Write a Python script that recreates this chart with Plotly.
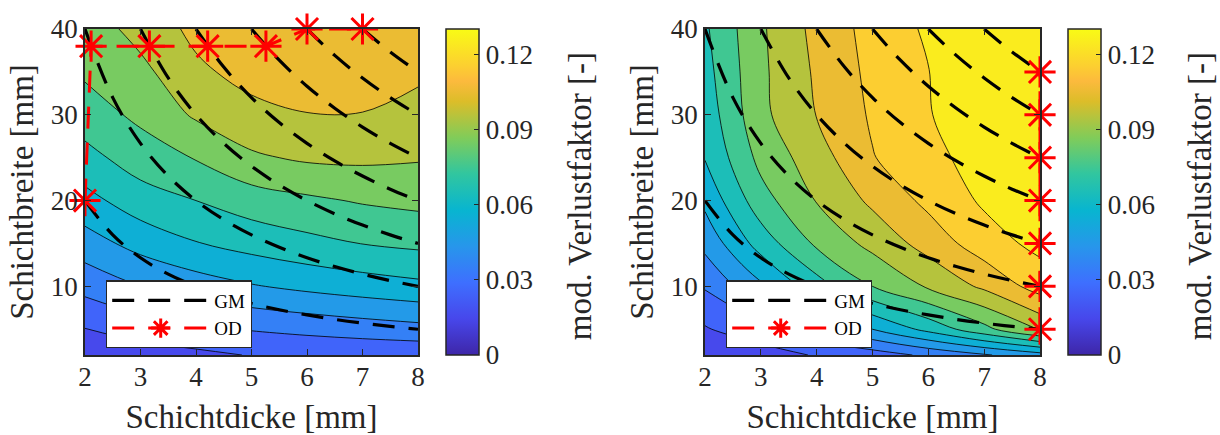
import plotly.graph_objects as go

# ---------------------------------------------------------------------------
# Data
# ---------------------------------------------------------------------------
# Grid of the parameter study: layer thickness (x) and layer width (y) in mm
thickness_mm = [2, 3, 4, 5, 6, 7, 8]
width_mm = [2, 5, 10, 15, 20, 25, 30, 35, 40]

# modified loss factor [-], rows follow width_mm, columns follow thickness_mm
loss_left = [
    [0.0114, 0.0150, 0.0176, 0.0205, 0.0210, 0.0215, 0.0220],
    [0.0197, 0.0246, 0.0279, 0.0306, 0.0328, 0.0349, 0.0368],
    [0.0333, 0.0399, 0.0450, 0.0492, 0.0524, 0.0551, 0.0575],
    [0.0455, 0.0536, 0.0595, 0.0637, 0.0672, 0.0702, 0.0722],
    [0.0567, 0.0654, 0.0700, 0.0751, 0.0782, 0.0809, 0.0826],
    [0.0667, 0.0750, 0.0806, 0.0885, 0.0915, 0.0920, 0.0909],
    [0.0752, 0.0822, 0.0914, 0.0970, 0.0998, 0.0998, 0.0967],
    [0.0815, 0.0873, 0.0980, 0.1035, 0.1035, 0.1030, 0.1018],
    [0.0845, 0.0935, 0.1025, 0.1055, 0.1065, 0.1065, 0.1060],
]

loss_right = [
    [0.0115, 0.0146, 0.0210, 0.0250, 0.0320, 0.0390, 0.0460],
    [0.0190, 0.0271, 0.0380, 0.0500, 0.0630, 0.0770, 0.0920],
    [0.0310, 0.0480, 0.0655, 0.0800, 0.0913, 0.1020, 0.1142],
    [0.0430, 0.0643, 0.0818, 0.0930, 0.1040, 0.1154, 0.1228],
    [0.0524, 0.0760, 0.0905, 0.1020, 0.1125, 0.1215, 0.1262],
    [0.0605, 0.0830, 0.0955, 0.1095, 0.1170, 0.1243, 0.1278],
    [0.0640, 0.0875, 0.1003, 0.1113, 0.1195, 0.1258, 0.1286],
    [0.0665, 0.0880, 0.1015, 0.1125, 0.1198, 0.1265, 0.1290],
    [0.0685, 0.0885, 0.1030, 0.1135, 0.1215, 0.1270, 0.1293],
]

# contour levels and colour range
level_start, level_end, level_step = 0.01, 0.12, 0.01
color_min, color_max = 0.0, 0.13
cbar_ticks = [0.0, 0.03, 0.06, 0.09, 0.12]
cbar_ticktext = ["0", "0.03", "0.06", "0.09", "0.12"]

# curves of equal cross-section (GM), sampled along the thickness axis
gm_x = [2.0, 2.5, 3.0, 3.5, 4.0, 4.5, 5.0, 5.5, 6.0, 6.5, 7.0, 7.5, 8.0]
gm_curves_y = [
    [20.0, 16.0, 13.33, 11.43, 10.0, 8.89, 8.0, 7.27, 6.67, 6.15, 5.71, 5.33, 5.0],
    [40.0, 32.0, 26.67, 22.86, 20.0, 17.78, 16.0, 14.55, 13.33, 12.31, 11.43, 10.67, 10.0],
    [None, None, 40.0, 34.29, 30.0, 26.67, 24.0, 21.82, 20.0, 18.46, 17.14, 16.0, 15.0],
    [None, None, None, None, 40.0, 35.56, 32.0, 29.09, 26.67, 24.62, 22.86, 21.33, 20.0],
    [None, None, None, None, None, None, 40.0, 36.36, 33.33, 30.77, 28.57, 26.67, 25.0],
    [None, None, None, None, None, None, None, None, 40.0, 36.92, 34.29, 32.0, 30.0],
    [None, None, None, None, None, None, None, None, None, None, 40.0, 37.33, 35.0],
]

# optimal designs (OD) on each GM curve
od_left_x = [2.0, 2.11, 3.16, 4.21, 5.26, 6.0, 7.0]
od_left_y = [20, 38, 38, 38, 38, 40, 40]
od_right_x = [8, 8, 8, 8, 8, 8, 8]
od_right_y = [5, 10, 15, 20, 25, 30, 35]

# ---------------------------------------------------------------------------
# Styling
# ---------------------------------------------------------------------------
FONT = "Liberation Serif"
INK = "#262626"
W, H = 1220, 435
M_L, M_R, M_T, M_B = 85, 180, 29, 80.4   # page margins around the two panels
PW, PH = W - M_L - M_R, H - M_T - M_B

parula_stops = [
    (0.000, (62, 38, 168)),
    (0.111, (71, 71, 235)),
    (0.222, (62, 111, 255)),
    (0.333, (39, 150, 235)),
    (0.444, (8, 181, 208)),
    (0.556, (49, 198, 159)),
    (0.667, (129, 204, 89)),
    (0.778, (220, 189, 41)),
    (0.840, (252, 186, 61)),
    (0.889, (252, 208, 48)),
    (1.000, (249, 251, 21)),
]


def parula_at(t):
    t = min(max(t, 0.0), 1.0)
    for (t0, c0), (t1, c1) in zip(parula_stops[:-1], parula_stops[1:]):
        if t <= t1:
            f = (t - t0) / (t1 - t0) if t1 > t0 else 0.0
            r, g, b = (round(a + f * (b_ - a)) for a, b_ in zip(c0, c1))
            return f"rgb({r},{g},{b})"
    r, g, b = parula_stops[-1][1]
    return f"rgb({r},{g},{b})"


parula_scale = [[t, f"rgb{c}"] for t, c in parula_stops]

# each filled band takes the colour at the middle of its level interval
n_levels = round((level_end - level_start) / level_step) + 1
band_scale = []
for k in range(0, n_levels + 1):
    mid = level_start + (k - 0.5) * level_step
    band_scale.append([k / n_levels, parula_at((mid - color_min) / (color_max - color_min))])


def px_x(p):
    """page pixel -> paper fraction (paper = area inside the margins)"""
    return (p - M_L) / PW


def px_y(p):
    return 1 - (p - M_T) / PH


fig = go.Figure()

panels = [
    dict(z=loss_left, od_x=od_left_x, od_y=od_left_y, xa="x", ya="y", legend="legend",
         cbar_x=446),
    dict(z=loss_right, od_x=od_right_x, od_y=od_right_y, xa="x2", ya="y2", legend="legend2",
         cbar_x=1068),
]

# all GM curves joined into one polyline per panel
gm_xs, gm_ys = [], []
for cy in gm_curves_y:
    gm_xs += gm_x + [None]
    gm_ys += cy + [None]

for p in panels:
    # continuous colour bar (the heatmap itself is hidden below the contour fill)
    fig.add_trace(go.Heatmap(
        x=thickness_mm, y=width_mm, z=p["z"], xaxis=p["xa"], yaxis=p["ya"],
        zmin=color_min, zmax=color_max, colorscale=parula_scale, hoverinfo="skip",
        showlegend=False,
        colorbar=dict(
            x=px_x(p["cbar_x"]), xanchor="left", xpad=0,
            y=1, yanchor="top", ypad=0,
            len=1, lenmode="fraction", thickness=33, thicknessmode="pixels",
            outlinewidth=1.5, outlinecolor=INK,
            ticks="inside", ticklen=5, tickcolor=INK, tickwidth=1.2,
            tickvals=cbar_ticks, ticktext=cbar_ticktext,
            tickfont=dict(family=FONT, size=27, color=INK),
        ),
    ))
    fig.add_trace(go.Contour(
        x=thickness_mm, y=width_mm, z=p["z"], xaxis=p["xa"], yaxis=p["ya"],
        colorscale=band_scale, showscale=False, hoverinfo="skip", showlegend=False,
        contours=dict(start=level_start, end=level_end, size=level_step, coloring="fill"),
        line=dict(color="black", width=0.8, smoothing=1.0),
    ))
    fig.add_trace(go.Scatter(
        x=gm_xs, y=gm_ys, xaxis=p["xa"], yaxis=p["ya"], mode="lines", name="GM",
        legend=p["legend"], connectgaps=False,
        line=dict(color="black", width=3.2, dash="22px,14px", shape="spline"),
    ))
    fig.add_trace(go.Scatter(
        x=p["od_x"], y=p["od_y"], xaxis=p["xa"], yaxis=p["ya"], mode="lines+markers",
        name="OD", legend=p["legend"], cliponaxis=False,
        line=dict(color="red", width=3, dash="22px,14px"),
        marker=dict(symbol="asterisk-open", size=26, line=dict(color="red", width=3)),
    ))

axis_common = dict(
    range=[2, 8], showgrid=False, zeroline=False, showline=True, linecolor=INK,
    linewidth=1.5, mirror="ticks", ticks="inside", ticklen=6, tickcolor=INK,
    tickwidth=1.2, tickfont=dict(family=FONT, size=27, color=INK), automargin=False,
)
xticks = dict(tickvals=[2, 3, 4, 5, 6, 7, 8], ticklabelstandoff=-3)
yaxis_common = dict(axis_common, range=[2, 40], tickvals=[10, 20, 30, 40])

x_title = dict(text="Schichtdicke [mm]", font=dict(family=FONT, size=33, color=INK), standoff=20)
y_title = dict(text="Schichtbreite [mm]", font=dict(family=FONT, size=33, color=INK), standoff=7)

legend_common = dict(
    bgcolor="white", bordercolor=INK, borderwidth=1.2,
    font=dict(family=FONT, size=19, color="black"),
    xanchor="left", yanchor="top", y=px_y(280), itemwidth=97,
    tracegroupgap=0,
)

fig.update_layout(
    width=W, height=H, margin=dict(l=M_L, r=M_R, t=M_T, b=M_B, autoexpand=False),
    paper_bgcolor="white", plot_bgcolor="white",
    font=dict(family=FONT, color=INK),
    xaxis=dict(axis_common, **xticks, domain=[px_x(85), px_x(418)], anchor="y", title=x_title),
    yaxis=dict(yaxis_common, domain=[0, 1], anchor="x", title=y_title),
    xaxis2=dict(axis_common, **xticks, domain=[px_x(705), px_x(1040)], anchor="y2", title=x_title),
    yaxis2=dict(yaxis_common, domain=[0, 1], anchor="x2", title=y_title),
    legend=dict(legend_common, x=px_x(106)),
    legend2=dict(legend_common, x=px_x(726)),
    showlegend=True,
)

for xc in (580, 1200):
    fig.add_annotation(
        text="mod. Verlustfaktor [-]", textangle=-90, showarrow=False,
        xref="paper", yref="paper", x=px_x(xc), y=px_y(196),
        xanchor="center", yanchor="middle",
        font=dict(family=FONT, size=33, color=INK),
    )

fig.write_html("out.html")
